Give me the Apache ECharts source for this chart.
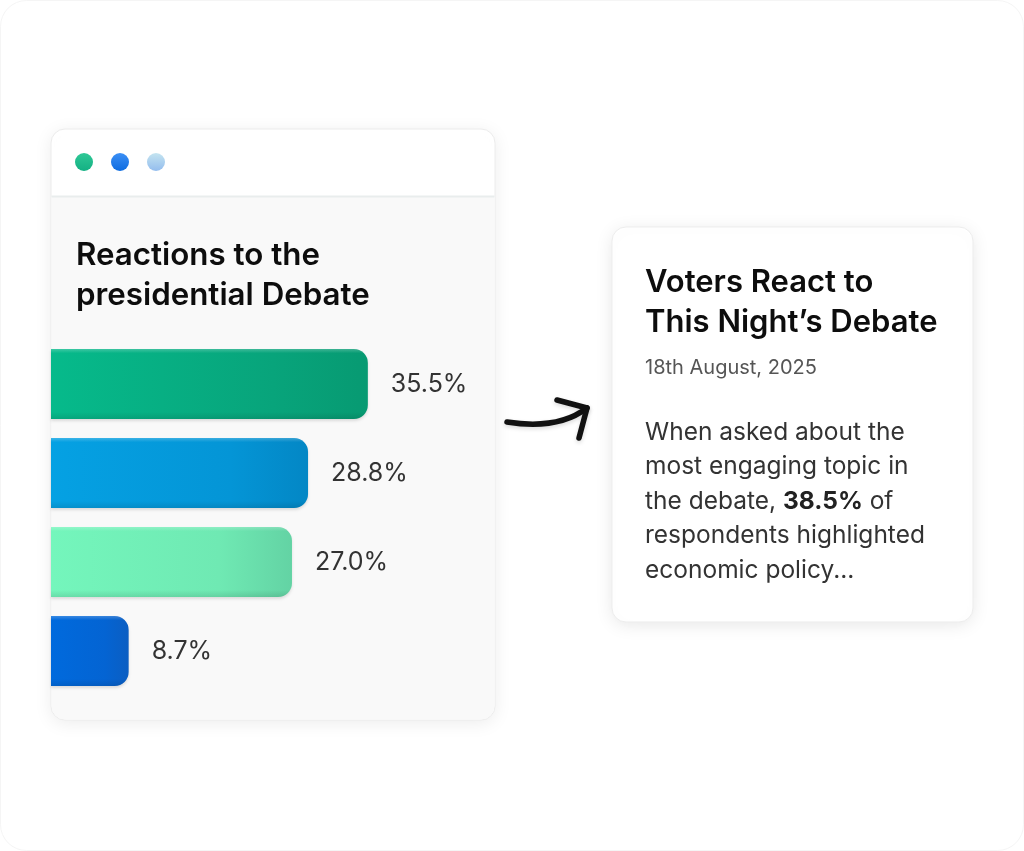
<!DOCTYPE html>
<html>
<head>
<meta charset="utf-8">
<title>Reactions to the presidential Debate</title>
<script src="https://cdn.jsdelivr.net/npm/echarts@6/dist/echarts.min.js"></script>
<style>
  html, body { margin: 0; padding: 0; background: #ffffff; }
  #chart { width: 1024px; height: 851px; }
</style>
</head>
<body>
<div id="chart"></div>
<script>
// data
const categories = ['Group 1', 'Group 2', 'Group 3', 'Group 4'];
const values = [35.5, 28.8, 27.0, 8.7];
const highlight = '38.5%';

// bar fills, left -> right
const barFills = [
  ['#06ba8b', '#08a47b', '#079a72'],
  ['#05a1e3', '#0495d6', '#0387c5'],
  ['#74f6bc', '#6fe9b3', '#63d3a4'],
  ['#006add', '#0464d3', '#0b5ec2']
];
const FONT = 'Inter, "Noto Sans", sans-serif';

const chart = echarts.init(document.getElementById('chart'), null, { renderer: 'canvas' });

function fill(c) {
  return new echarts.graphic.LinearGradient(0, 0, 1, 0, [
    { offset: 0, color: c[0] },
    { offset: 0.7, color: c[1] },
    { offset: 1, color: c[2] }
  ]);
}

// soft bevel drawn over each bar
const bevel = new echarts.graphic.LinearGradient(0, 0, 0, 1, [
  { offset: 0, color: 'rgba(255,255,255,0.22)' },
  { offset: 0.06, color: 'rgba(255,255,255,0.0)' },
  { offset: 0.9, color: 'rgba(0,0,0,0.0)' },
  { offset: 1, color: 'rgba(0,0,0,0.10)' }
]);

const option = {
  backgroundColor: '#ffffff',
  animation: false,
  grid: { left: 51, top: 339.5, width: 357, height: 356 },
  xAxis: { type: 'value', min: 0, max: 40, show: false },
  yAxis: { type: 'category', data: categories, inverse: true, show: false },
  series: [{
    type: 'bar',
    barWidth: 70,
    z: 5,
    data: values.map(function (v, i) {
      return {
        value: v,
        itemStyle: {
          color: fill(barFills[i]),
          shadowColor: 'rgba(0,0,0,0.12)',
          shadowBlur: 3,
          shadowOffsetY: 2
        }
      };
    }),
    itemStyle: { borderRadius: [0, 14, 14, 0] },
    label: {
      show: true,
      position: 'right',
      distance: 23,
      fontFamily: FONT,
      fontSize: 25,
      color: '#333333',
      formatter: function (p) { return p.value.toFixed(1) + '%'; }
    }
  }, {
    type: 'bar',
    barWidth: 70,
    barGap: '-100%',
    z: 6,
    silent: true,
    data: values,
    itemStyle: { color: bevel, borderRadius: [0, 14, 14, 0] }
  }],
  graphic: [
    // page frame
    { type: 'rect', z: -20, shape: { x: 0.5, y: 0.5, width: 1023, height: 850, r: 26 },
      style: { fill: '#ffffff', stroke: '#f5f5f5', lineWidth: 1 } },

    // left window card
    { type: 'rect', z: -10, shape: { x: 51, y: 129, width: 444, height: 591, r: 14 },
      style: { fill: '#ffffff', stroke: '#ececec', lineWidth: 1,
        shadowBlur: 18, shadowColor: 'rgba(0,0,0,0.08)', shadowOffsetY: 3 } },
    { type: 'rect', z: -9, shape: { x: 51.5, y: 197, width: 443, height: 522.5, r: [0, 0, 14, 14] },
      style: { fill: '#f9f9f9' } },
    { type: 'line', z: -8, shape: { x1: 51.5, y1: 196.5, x2: 494.5, y2: 196.5 },
      style: { stroke: '#e9eded', lineWidth: 2 } },
    { type: 'circle', z: -8, shape: { cx: 84, cy: 162, r: 9 },
      style: { fill: new echarts.graphic.LinearGradient(0, 0, 0, 1, [
        { offset: 0, color: '#2fc896' }, { offset: 1, color: '#14b083' }]) } },
    { type: 'circle', z: -8, shape: { cx: 120, cy: 162, r: 9 },
      style: { fill: new echarts.graphic.LinearGradient(0, 0, 0, 1, [
        { offset: 0, color: '#3b8ff5' }, { offset: 1, color: '#0e6ce0' }]) } },
    { type: 'circle', z: -8, shape: { cx: 156, cy: 162, r: 9 },
      style: { fill: new echarts.graphic.LinearGradient(0, 0, 0, 1, [
        { offset: 0, color: '#c4e4f0' }, { offset: 1, color: '#94bdee' }]) } },
    { type: 'text', z: -8, left: 76, top: 236,
      style: { text: 'Reactions to the\npresidential Debate', fontFamily: FONT, fontSize: 31.3,
        fontWeight: 600, lineHeight: 40, fill: '#0d0d0d' } },

    // arrow
    { type: 'bezierCurve', z: 1,
      shape: { x1: 507, y1: 422, cpx1: 545, cpy1: 428, cpx2: 570, cpy2: 421, x2: 587, y2: 408 },
      style: { stroke: '#111111', lineWidth: 5.5, lineCap: 'round', fill: null,
        shadowBlur: 4, shadowColor: 'rgba(0,0,0,0.15)', shadowOffsetY: 2 } },
    { type: 'polyline', z: 1,
      shape: { points: [[557, 400], [587, 408], [579, 438]] },
      style: { stroke: '#111111', lineWidth: 5.5, lineCap: 'round', lineJoin: 'round', fill: null,
        shadowBlur: 4, shadowColor: 'rgba(0,0,0,0.15)', shadowOffsetY: 2 } },

    // right article card
    { type: 'rect', z: -10, shape: { x: 612, y: 227, width: 361, height: 395, r: 14 },
      style: { fill: '#ffffff', stroke: '#ededed', lineWidth: 1,
        shadowBlur: 18, shadowColor: 'rgba(0,0,0,0.09)', shadowOffsetY: 3 } },
    { type: 'text', z: -8, left: 645, top: 263,
      style: { text: 'Voters React to\nThis Night\u2019s Debate', fontFamily: FONT, fontSize: 31,
        fontWeight: 600, lineHeight: 40, fill: '#0d0d0d' } },
    { type: 'text', z: -8, left: 645, top: 358,
      style: { text: '18th August, 2025', fontFamily: FONT, fontSize: 20,
        fill: '#555555' } },
    { type: 'text', z: -8, left: 645, top: 415,
      style: {
        text: 'When asked about the\nmost engaging topic in\nthe debate, {b|' + highlight + '} of\nrespondents highlighted\neconomic policy...',
        fontFamily: FONT, fontSize: 24.5, lineHeight: 34.5, fill: '#333333',
        rich: { b: { fontFamily: FONT, fontSize: 24.5, lineHeight: 34.5, fontWeight: 700, fill: '#222222' } }
      } }
  ]
};

chart.setOption(option);
</script>
</body>
</html>
